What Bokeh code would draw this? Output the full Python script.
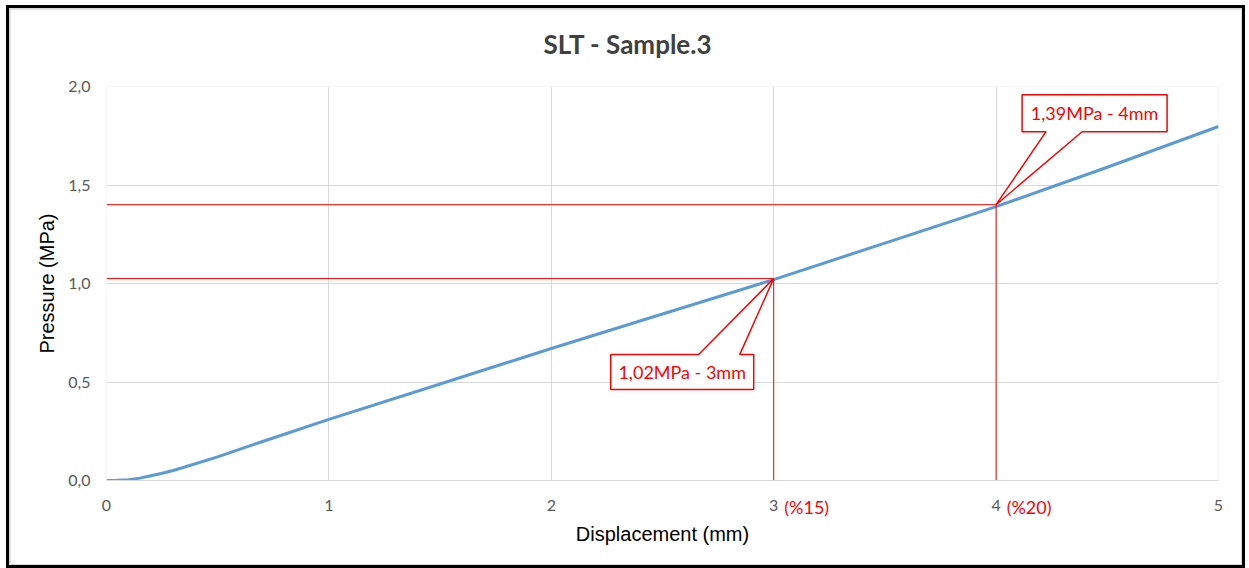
from bokeh.plotting import figure
from bokeh.models import FixedTicker, CustomJSTickFormatter, Range1d, LinearAxis
from bokeh.core.properties import value
from bokeh.embed import file_html
from bokeh.resources import INLINE

# ---- data ----
displacement = [0, 0.05, 0.1, 0.15, 0.2, 0.25, 0.3, 0.4, 0.5, 0.65, 0.8, 1.0, 1.5, 2.0, 2.5, 3.0, 3.5, 4.0, 4.5, 5.0]
pressure = [0, 0.001, 0.004, 0.012, 0.024, 0.037, 0.051, 0.085, 0.12, 0.178, 0.235, 0.31, 0.49, 0.67, 0.845, 1.02, 1.205, 1.39, 1.59, 1.797]
x_ticks = [0, 1, 2, 3, 4, 5]
y_ticks = [0.0, 0.5, 1.0, 1.5, 2.0]
marks_x = [3, 4]
marks_y = [1.025, 1.40]
marks_text = ["1,02MPa - 3mm", "1,39MPa - 4mm"]
pct_text = ["(%15)", "(%20)"]

RED = "#ff0000"
BLUE = "#5b9bd5"
GRID = "#d9d9d9"
TICK = "#595959"

W, H = 1239, 563
ML, MR, MT, MB = 96, 31, 77, 92

p = figure(width=W, height=H, output_backend="svg", toolbar_location=None,
           x_range=Range1d(0, 5), y_range=Range1d(0, 2),
           min_border_left=ML, min_border_right=MR, min_border_top=MT, min_border_bottom=MB,
           title="SLT - Sample.3")
p.styles = {"border": "3px solid black", "padding": "1px", "background": GRID,
            "margin-left": "6px", "margin-top": "5px"}
p.outline_line_color = None
p.background_fill_color = "white"
p.border_fill_color = "white"

p.title.align = "left"
p.title.vertical_align = "top"
p.title.text_font = "Lato"
p.title.text_font_style = "bold"
p.title.text_font_size = "26px"
p.title.text_color = "#404040"
p.title.offset = 437
p.title.standoff = 10

# main axes
xax = p.below[0]
yax = p.left[0]
xax.ticker = FixedTicker(ticks=x_ticks)
yax.ticker = FixedTicker(ticks=y_ticks)
yax.formatter = CustomJSTickFormatter(code="return tick.toFixed(1).replace('.', ',');")
for ax in (xax, yax):
    ax.major_tick_line_color = None
    ax.minor_tick_line_color = None
    ax.major_tick_out = 0
    ax.minor_tick_out = 0
    ax.major_label_text_font = "Lato"
    ax.major_label_text_font_size = "16px"
    ax.major_label_text_color = TICK
    ax.axis_label_text_font = "Liberation Sans"
    ax.axis_label_text_font_size = "20px"
    ax.axis_label_text_font_style = "normal"
    ax.axis_label_text_color = "black"
xax.axis_line_color = GRID
yax.axis_line_color = None
yax.axis_label = "Pressure (MPa)"
xax.major_label_standoff = 19
yax.major_label_standoff = 16
yax.axis_label_standoff = 7

# invisible spacer between the title and the plot area (white tick on white)
spacer = LinearAxis(ticker=FixedTicker(ticks=[2.5]), axis_line_color=None,
                    major_tick_line_color="white", minor_tick_line_color=None,
                    major_tick_in=0, major_tick_out=20, minor_tick_out=0,
                    major_label_standoff=0, major_label_text_color=None)
p.add_layout(spacer, "above")

# second x axis carrying the red percentage labels, shifted right of the ticks
PX_X = 1112 / 5.0
PX_Y = 394 / 2.0
shift = 33.0 / PX_X
p.extra_x_ranges = {"pct": Range1d(-shift, 5 - shift)}
pct_axis = LinearAxis(x_range_name="pct", ticker=FixedTicker(ticks=marks_x),
                      major_label_overrides={m: t for m, t in zip(marks_x, pct_text)},
                      axis_line_color=None, major_tick_line_color=None, minor_tick_line_color=None,
                      major_tick_out=0, minor_tick_out=0, major_label_standoff=-18,
                      major_label_text_color=RED, major_label_text_font="Lato",
                      major_label_text_font_size="18px",
                      axis_label="Displacement (mm)", axis_label_text_font="Liberation Sans",
                      axis_label_text_font_size="20px", axis_label_text_font_style="normal",
                      axis_label_text_color="black", axis_label_standoff=2)
p.add_layout(pct_axis, "below")

p.grid.grid_line_color = GRID
p.grid.grid_line_width = 1

# curve
p.line(displacement, pressure, line_color=BLUE, line_width=3)

# red reference lines
for mx, my in zip(marks_x, marks_y):
    p.line([0, mx], [my, my], line_color=RED, line_width=1)
    p.line([mx, mx], [my, -0.05], line_color=RED, line_width=1)

# callouts: box as pixel offsets from the marked point (y up), converted with the scale
callouts = [
    dict(l=-163, r=-20, t=-76, b=-111, b1=-75, b2=-34, edge="top"),
    dict(l=26, r=171, t=110, b=73, b1=50, b2=86, edge="bottom"),
]
for (mx, my, txt, c) in zip(marks_x, marks_y, marks_text, callouts):
    X = lambda d, mx=mx: mx + d / PX_X
    Y = lambda d, my=my: my + d / PX_Y
    if c["edge"] == "top":
        xs = [X(c["l"]), X(c["b1"]), mx, X(c["b2"]), X(c["r"]), X(c["r"]), X(c["l"])]
        ys = [Y(c["t"]), Y(c["t"]), my, Y(c["t"]), Y(c["t"]), Y(c["b"]), Y(c["b"])]
    else:
        xs = [X(c["l"]), X(c["r"]), X(c["r"]), X(c["b2"]), mx, X(c["b1"]), X(c["l"])]
        ys = [Y(c["t"]), Y(c["t"]), Y(c["b"]), Y(c["b"]), my, Y(c["b"]), Y(c["b"])]
    p.patch(xs, ys, fill_color="white", line_color=RED, line_width=1.5)
    p.text([X((c["l"] + c["r"]) / 2)], [Y((c["t"] + c["b"]) / 2)], text=[txt],
           text_font=value("Lato"), text_font_size="18px", text_color=RED,
           text_align="center", text_baseline="middle")

open("out.html", "w").write(file_html(p, INLINE))
